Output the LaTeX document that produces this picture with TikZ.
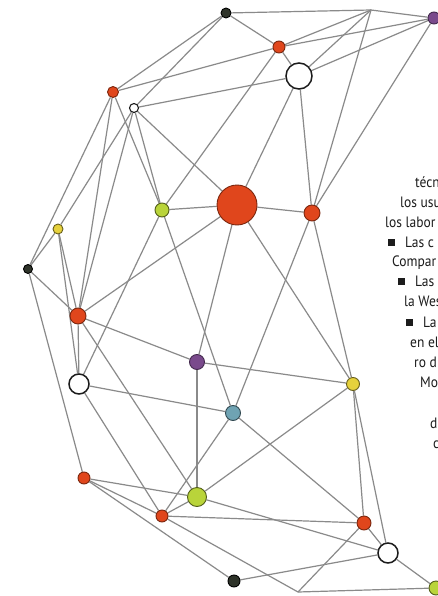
\documentclass[tikz,border=0pt]{standalone}
\usepackage{fontspec}
\newfontfamily\colfont[FakeStretch=0.9]{PT Sans}
\usepackage{xcolor}
\definecolor{tomato}{HTML}{E0461C}
\definecolor{limeg}{HTML}{B9D43A}
\definecolor{mustard}{HTML}{E6D13C}
\definecolor{plum}{HTML}{7A4A8C}
\definecolor{tealb}{HTML}{6FA3B3}
\definecolor{soot}{HTML}{2E3329}
\definecolor{wire}{HTML}{8A8A8A}
\definecolor{ink}{HTML}{1C1C1C}
\usepackage{tikz}
\usetikzlibrary{backgrounds}
\tikzset{
  dot/.style={circle, inner sep=0pt, line width=0.9pt},
  reddot/.style={dot, fill=tomato, draw=tomato!55!black},
  limedot/.style={dot, fill=limeg, draw=limeg!45!black},
  yellowdot/.style={dot, fill=mustard, draw=mustard!45!black},
  plumdot/.style={dot, fill=plum, draw=plum!55!black},
  tealdot/.style={dot, fill=tealb, draw=tealb!45!black},
  sootdot/.style={dot, fill=soot, draw=black},
  hollow/.style={dot, fill=white, draw=ink, line width=1.5pt},
  link/.style={draw=wire, line width=1.2pt},
  coltext/.style={anchor=base west, inner sep=0pt, text=ink, font=\colfont\fontsize{15}{17}\selectfont},
}
\newcommand\sqbul{\raisebox{1pt}{\rule{7pt}{7pt}}\hspace{10pt}}

\begin{document}
\begin{tikzpicture}[x=1pt, y=-1pt]
  \useasboundingbox (0,0) rectangle (438,596);
  \clip (0,0) rectangle (438,596);
  % top row
  \node[sootdot, minimum size=10pt] (dk1) at (226,13) {};
  \coordinate (apex) at (371,10);
  \node[plumdot, minimum size=12pt] (pu1) at (434,18) {};
  \node[reddot, minimum size=12pt] (rd1) at (279,47) {};
  \node[hollow, minimum size=26pt] (wh1) at (299,76) {};
  \node[reddot, minimum size=11pt] (rd2) at (113,92) {};
  \node[hollow, minimum size=9pt, line width=1.1pt] (wh2) at (134,108) {};
  % middle
  \node[reddot, minimum size=40pt] (bigred) at (237,205) {};
  \node[limedot, minimum size=14pt] (li1) at (162,210) {};
  \node[reddot, minimum size=16pt] (rd3) at (312,213) {};
  \node[yellowdot, minimum size=10pt] (ye1) at (58,229) {};
  \node[sootdot, minimum size=9pt] (dk2) at (28,269) {};
  \node[reddot, minimum size=16pt] (rd4) at (78,316) {};
  \node[plumdot, minimum size=15pt] (pu2) at (197,362) {};
  \node[hollow, minimum size=20pt] (wh3) at (79,384) {};
  \node[yellowdot, minimum size=13pt] (ye2) at (353,384) {};
  \node[tealdot, minimum size=15pt] (teal) at (233,413) {};
  % bottom
  \node[reddot, minimum size=12pt] (rd5) at (84,478) {};
  \node[limedot, minimum size=19pt] (li2) at (197,497) {};
  \node[reddot, minimum size=12pt] (rd6) at (162,516) {};
  \node[reddot, minimum size=14pt] (rd7) at (364,523) {};
  \node[hollow, minimum size=20pt] (wh4) at (388,553) {};
  \node[sootdot, minimum size=12pt] (dk3) at (234,581) {};
  \node[limedot, minimum size=14pt] (li3) at (436,588) {};
  \coordinate (foot) at (298,592);

  \begin{scope}[on background layer]
    \fill[white] (0,0) rectangle (438,596);
    \foreach \a/\b in {dk1/apex, apex/pu1, dk1/rd1, rd1/wh1, rd1/apex, rd1/pu1,
        wh1/pu1, wh1/apex, dk1/rd2, dk1/wh2, rd2/rd1, wh2/wh1, wh1/bigred,
        wh1/rd3, apex/rd3, pu1/rd3, rd1/li1, wh2/li1, wh2/bigred, li1/bigred,
        bigred/rd3, rd2/dk2, rd2/rd4, rd2/li1, wh2/ye1, wh2/rd4, ye1/dk2,
        ye1/rd4, dk2/rd4, bigred/rd4, bigred/pu2, bigred/ye2, rd3/ye2, rd3/teal,
        li1/wh3, li1/teal, rd4/pu2, rd4/wh3, rd4/li2, pu2/ye2, pu2/li2,
        wh3/teal, wh3/rd6, ye1/wh3, dk2/rd5, rd5/li2, rd5/rd6, rd5/dk3,
        li2/ye2, rd6/li2, li2/wh4, rd6/rd7, rd6/foot, rd6/teal, teal/rd7,
        ye2/rd7, ye2/wh4, rd7/wh4, dk3/wh4, wh4/li3, foot/li3, rd7/foot}
      \draw[link] (\a) -- (\b);
  \end{scope}

  % neighbouring column, cut at the edge
  \foreach \x/\y/\t [count=\i] in {415/187/técn, 400/207/los usu, 385/227/los labor,
      388/247/{\sqbul Las c}, 392/266/Compar, 398/286/{\sqbul Las}, 404/306/la Wes,
      406/327/{\sqbul La}, 410/347/en el, 414/367/ro d, 420/387/Mo, 430/428/d, 433/448/c}
    \node[coltext] (col\i) at (\x,\y) {\t};
\end{tikzpicture}
\end{document}
